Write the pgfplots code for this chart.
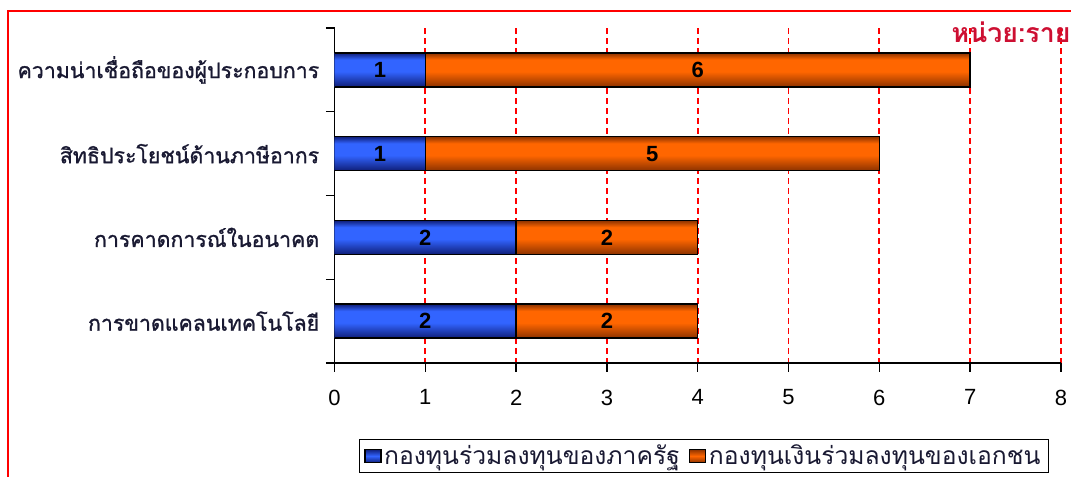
\documentclass[border=0pt]{standalone}
\usepackage{pgfplots}
\pgfplotsset{compat=1.18}
\usepackage{pgfplotstable}
\usepackage{fontspec}
\setmainfont{Liberation Sans}
\newfontfamily\thaifont[Script=Thai]{Loma}
\newfontfamily\thaisemi[Script=Thai, FakeBold=1.2]{Loma}

\definecolor{bluemid}{RGB}{50,100,255}
\definecolor{blueedge}{RGB}{15,30,120}
\definecolor{orgmid}{RGB}{255,102,0}
\definecolor{orgedge}{RGB}{140,50,0}
\definecolor{labtxt}{RGB}{25,25,50}
\definecolor{unitred}{RGB}{205,15,50}

% per-bar vertical shadings (shading's 25bp..75bp is mapped onto the plot's bounding box)
\pgfdeclareverticalshading{bluebars}{100bp}{%
 color(0bp)=(blueedge); color(25bp)=(blueedge); color(27.68bp)=(bluemid); color(29.77bp)=(bluemid); color(30.96bp)=(blueedge);
 color(39.68bp)=(blueedge); color(42.36bp)=(bluemid); color(44.45bp)=(bluemid); color(45.64bp)=(blueedge);
 color(54.36bp)=(blueedge); color(57.04bp)=(bluemid); color(59.13bp)=(bluemid); color(60.32bp)=(blueedge);
 color(69.04bp)=(blueedge); color(71.72bp)=(bluemid); color(73.81bp)=(bluemid); color(75bp)=(blueedge); color(100bp)=(blueedge)}
\pgfdeclareverticalshading{orgbars}{100bp}{%
 color(0bp)=(orgedge); color(25bp)=(orgedge); color(27.68bp)=(orgmid); color(29.77bp)=(orgmid); color(30.96bp)=(orgedge);
 color(39.68bp)=(orgedge); color(42.36bp)=(orgmid); color(44.45bp)=(orgmid); color(45.64bp)=(orgedge);
 color(54.36bp)=(orgedge); color(57.04bp)=(orgmid); color(59.13bp)=(orgmid); color(60.32bp)=(orgedge);
 color(69.04bp)=(orgedge); color(71.72bp)=(orgmid); color(73.81bp)=(orgmid); color(75bp)=(orgedge); color(100bp)=(orgedge)}

\pgfplotstableread{
idx pub priv
0 1 6
1 1 5
2 2 2
3 2 2
}\data

\begin{document}
\begin{tikzpicture}
\useasboundingbox (0,0) rectangle (803.25pt,357pt);
\clip (0,0) rectangle (803.25pt,357pt);
\draw[red, line width=0.8pt] (6pt,348.75pt) rectangle (830pt,-10pt);
\begin{axis}[
  at={(250.9pt,84.75pt)}, anchor=south west,
  scale only axis, width=544.8pt, height=251.25pt,
  xbar stacked, bar width=0.406,
  xmin=0, xmax=8, ymin=-0.5, ymax=3.5, y dir=reverse,
  axis x line*=bottom, axis y line*=left,
  axis line style={black, line width=1pt},
  tick align=outside, major tick length=6.5pt,
  tick style={black, line width=1pt},
  xtick={0,...,8},
  xmajorgrids=true, ymajorgrids=false,
  grid style={red, line width=1.4pt, dash pattern=on 4.5pt off 3pt},
  major grid style={red, line width=1.4pt, dash pattern=on 4.5pt off 3pt},
  xticklabel style={font=\fontsize{16.5}{18}\selectfont, yshift=-10pt},
  /pgf/number format/assume math mode=true,
  ytick={-0.5,0.5,1.5,2.5,3.5},
  yticklabels={},
  extra y ticks={0,1,2,3},
  extra y tick labels={ความน่าเชื่อถือของผู้ประกอบการ, สิทธิประโยชน์ด้านภาษีอากร, การคาดการณ์ในอนาคต, การขาดแคลนเทคโนโลยี},
  extra y tick style={major tick length=0pt,
     yticklabel style={font=\thaisemi\fontsize{16}{18}\selectfont, text=labtxt, anchor=east, xshift=-8pt}},
  point meta=explicit symbolic,
  nodes near coords={\pgfplotspointmeta},
  every node near coord/.append style={font=\bfseries\fontsize{16.5}{18}\selectfont, text=black, anchor=center},
  legend columns=2,
  legend style={at={(0.5083,-0.2776)}, anchor=center, draw=black, line width=0.8pt,
     font=\thaifont\fontsize{18.5}{20}\selectfont, text=labtxt,
     inner xsep=4pt, inner ysep=2pt,
     /tikz/every even column/.append style={column sep=5pt}},
  legend image code/.code={\draw[#1, draw=black, line width=0.8pt] (0pt,-5pt) rectangle (12pt,5pt);},
]
\addplot[forget plot, draw=black, line width=1pt, shade, shading=bluebars]
  table[x=pub, y=idx, meta=pub] {\data};
\addplot[forget plot, draw=black, line width=1pt, shade, shading=orgbars]
  table[x=priv, y=idx, meta=priv] {\data};
\addlegendimage{top color=blueedge, bottom color=blueedge, middle color=bluemid}
\addlegendentry{กองทุนร่วมลงทุนของภาครัฐ}
\addlegendimage{top color=orgedge, bottom color=orgedge, middle color=orgmid}
\addlegendentry{กองทุนเงินร่วมลงทุนของเอกชน}
\end{axis}
\node[anchor=base west, text=unitred, inner sep=0pt] at (713.5pt,324.75pt) {\thaifont\bfseries\fontsize{20}{22}\selectfont หน่วย:ราย};
\end{tikzpicture}
\end{document}
